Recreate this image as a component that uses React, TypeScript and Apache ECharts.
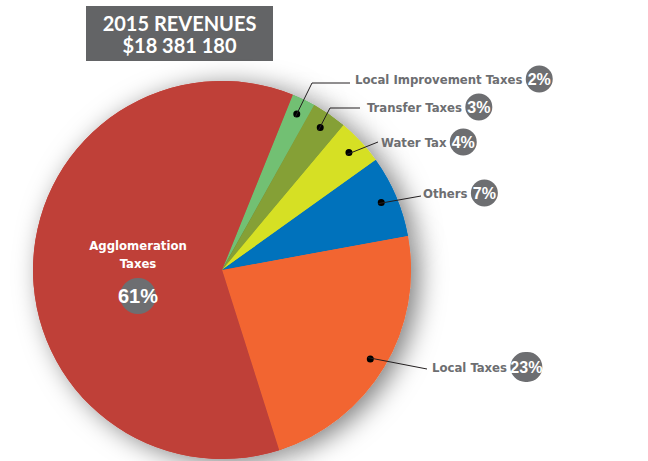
import React, { useEffect, useRef } from "react";
import * as echarts from "echarts";

const categories = [
  "Local Improvement Taxes",
  "Transfer Taxes",
  "Water Tax",
  "Others",
  "Local Taxes",
  "Agglomeration Taxes",
];
const shares = [2, 3, 4, 7, 23, 61];
const colors = ["#72c073", "#85a036", "#d6e024", "#0072bc", "#f26531", "#bf4038"];
const titleLines = ["2015 REVENUES", "$18 381 180"];

// label anchor positions (layout only)
const labelAnchors = [
  { x: 355, y: 79, elbow: [312, 83], end: [350, 83] },
  { x: 367, y: 107, elbow: [330, 108], end: [360, 108] },
  { x: 381, y: 142, elbow: null, end: [378, 142] },
  { x: 423, y: 193, elbow: null, end: [421, 196] },
  { x: 432, y: 367, elbow: null, end: [427, 369] },
];

const CX = 222;
const CY = 270;
const R = 189;
const START = 68;
const DOT_R = 170;
const NARROW = "'Liberation Sans Narrow', 'DejaVu Sans Condensed', 'Liberation Sans', Arial, sans-serif";

function midPoint(i: number): number[] {
  const total = shares.reduce((a, b) => a + b, 0);
  let before = 0;
  for (let k = 0; k < i; k++) before += shares[k];
  const deg = START - ((before + shares[i] / 2) / total) * 360;
  const rad = (deg * Math.PI) / 180;
  return [CX + DOT_R * Math.cos(rad), CY - DOT_R * Math.sin(rad)];
}

export default function App() {
  const ref = useRef<HTMLDivElement>(null);
  useEffect(() => {
    if (!ref.current) return;
    const chart = echarts.init(ref.current, null, { renderer: "svg" });
    const data = categories.map((name, i) => ({
      name,
      value: shares[i],
      itemStyle: { color: colors[i] },
    }));
    const shadowData = categories.map((name, i) => ({
      name,
      value: shares[i],
      itemStyle: { color: colors[i] },
    }));
    const dotData = categories.map((name, i) => ({
      name,
      value: shares[i],
      label: { show: i !== 5 },
    }));
    const leaderLines = labelAnchors.map((a, i) => ({
      type: "polyline",
      id: "leader" + i,
      z: 100,
      shape: { points: a.elbow ? [midPoint(i), a.elbow, a.end] : [midPoint(i), a.end] },
      style: { stroke: "#231f20", lineWidth: 1, fill: "none" },
    }));
    chart.setOption({
      animation: false,
      graphic: [
        {
          type: "rect",
          shape: { x: 86, y: 6, width: 187, height: 55 },
          style: { fill: "#636466" },
        },
        {
          type: "text",
          x: 179.5,
          y: 23,
          style: {
            text: titleLines[0],
            fill: "#ffffff",
            font: "bold 20px Lato, 'Open Sans', sans-serif",
            lineHeight: 20,
            align: "center",
            verticalAlign: "middle",
          },
        },
        {
          type: "text",
          x: 179.5,
          y: 45,
          style: {
            text: titleLines[1],
            fill: "#ffffff",
            font: "bold 20px Lato, 'Open Sans', sans-serif",
            lineHeight: 20,
            align: "center",
            verticalAlign: "middle",
          },
        },
        ...leaderLines,
      ],
      series: [
        {
          // shadow copy of the pie, covered by the main pie
          type: "pie",
          center: [CX, CY],
          radius: [0, R],
          startAngle: START,
          clockwise: true,
          silent: true,
          z: 1,
          label: { show: false },
          labelLine: { show: false },
          itemStyle: {
            shadowBlur: 26,
            shadowColor: "rgba(0,0,0,0.5)",
            shadowOffsetX: 8,
            shadowOffsetY: 4,
          },
          data: shadowData,
        },
        {
          type: "pie",
          center: [CX, CY],
          radius: [0, R],
          startAngle: START,
          clockwise: true,
          avoidLabelOverlap: false,
          silent: true,
          z: 2,
          label: {
            show: true,
            position: "outside",
            formatter: (p: any) =>
              p.dataIndex === 5
                ? "{n|Agglomeration}\n{n|Taxes}\n{sp| }\n{big|" + p.value + "%}"
                : "{name|" + p.name + "} {" + (p.value >= 10 ? "pct2" : "pct") + "|" + p.value + "%}",
            rich: {
              name: {
                color: "#6d6e71",
                fontSize: 13,
                fontWeight: "bold",
                fontFamily: NARROW,
              },
              pct: {
                color: "#ffffff",
                backgroundColor: "#6d6e71",
                fontSize: 16,
                fontWeight: "bold",
                fontFamily: "Arial, 'Liberation Sans', sans-serif",
                width: 27,
                height: 27,
                borderRadius: 14,
                align: "center",
              },
              pct2: {
                color: "#ffffff",
                backgroundColor: "#6d6e71",
                fontSize: 16,
                fontWeight: "bold",
                fontFamily: "Arial, 'Liberation Sans', sans-serif",
                width: 32,
                height: 30,
                borderRadius: 15,
                align: "center",
              },
              n: {
                color: "#ffffff",
                fontSize: 13,
                fontWeight: "bold",
                fontFamily: NARROW,
                lineHeight: 18,
                align: "center",
              },
              sp: { height: 6, lineHeight: 6, fontSize: 4 },
              big: {
                color: "#ffffff",
                backgroundColor: "#6d6e71",
                fontSize: 20,
                fontWeight: "bold",
                fontFamily: "Arial, 'Liberation Sans', sans-serif",
                width: 36,
                height: 36,
                borderRadius: 18,
                align: "center",
              },
            },
          },
          labelLine: { show: false },
          labelLayout: (params: any) => {
            const i = params.dataIndex;
            if (i === 5) {
              return { x: 138, y: 275, align: "center", verticalAlign: "middle" };
            }
            const a = labelAnchors[i];
            return { x: a.x, y: a.y, align: "left", verticalAlign: "middle" };
          },
          data,
        },
        {
          type: "pie",
          center: [CX, CY],
          radius: [151, R],
          startAngle: START,
          clockwise: true,
          silent: true,
          avoidLabelOverlap: false,
          z: 3,
          itemStyle: { color: "rgba(0,0,0,0)" },
          label: {
            position: "inside",
            formatter: () => "{d| }",
            rich: {
              d: {
                width: 7,
                height: 7,
                borderRadius: 4,
                backgroundColor: "#000000",
              },
            },
          },
          labelLine: { show: false },
          data: dotData,
        },
      ],
    });
    return () => chart.dispose();
  }, []);
  return (
    <div
      ref={ref}
      style={{ position: "fixed", left: 0, top: 0, width: 648, height: 461, background: "#ffffff" }}
    />
  );
}
